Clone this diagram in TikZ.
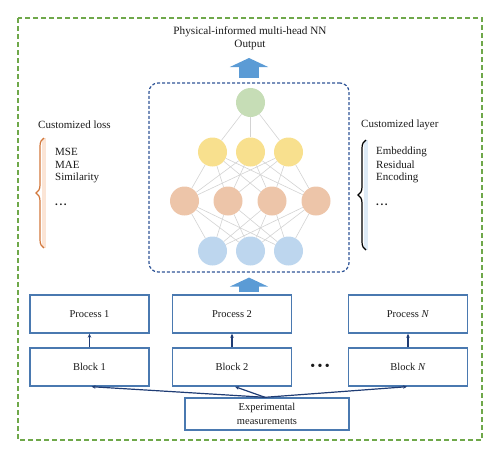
\documentclass[tikz,border=0pt]{standalone}
\usepackage{fontspec}
\setmainfont{Liberation Serif}
\usetikzlibrary{arrows.meta,decorations.pathreplacing}
\definecolor{frameGreen}{HTML}{6FA84A}
\definecolor{nnBlue}{HTML}{2F5597}
\definecolor{boxBlue}{HTML}{4A79B0}
\definecolor{arrNavy}{HTML}{1F3C74}
\definecolor{bigBlue}{HTML}{5B9BD5}
\definecolor{nGreen}{HTML}{C6DDB6}
\definecolor{nYellow}{HTML}{F8E08E}
\definecolor{nOrange}{HTML}{EDC5A9}
\definecolor{nBlue}{HTML}{BDD6EE}
\definecolor{edgeGray}{HTML}{D3D3D3}
\definecolor{braceOrange}{HTML}{D2783C}
\definecolor{stripOrange}{HTML}{FBE5D6}
\definecolor{stripBlue}{HTML}{DEEBF7}
\definecolor{txt}{HTML}{1A1A1A}
\begin{document}
\begin{tikzpicture}[x=1pt,y=-1pt,
  every node/.style={text=txt},
  neuron/.style={circle,minimum size=29pt,inner sep=0pt,draw=none},
  nnedge/.style={draw=edgeGray,line width=0.6pt},
  stagebox/.style={draw=boxBlue,line width=1.4pt,minimum width=119pt,minimum height=38pt,inner sep=0pt,font=\fontsize{10.5}{12}\selectfont},
  smallarr/.style={draw=arrNavy,line width=1.2pt,-{Stealth[length=4pt,width=3.5pt]}},
  bigarr/.style={draw=bigBlue,line width=19.5pt,-{Triangle[width=38pt,length=9pt]}},
  lbl/.style={font=\fontsize{11}{13}\selectfont,inner sep=0pt,anchor=west},
  bracestyle/.style={decorate,decoration={brace,amplitude=8pt},line width=1.2pt}
]
\useasboundingbox (0,0) rectangle (500,458);
% outer frame
\draw[frameGreen,line width=1.3pt,dash pattern=on 5pt off 3pt] (18,18) rectangle (482,440);
% title
\node[align=center,font=\fontsize{11.2}{13.5}\selectfont,inner sep=0pt] (title) at (250,38) {Physical-informed multi-head NN\\Output};
\coordinate (outtip) at (249,58);
% NN box
\node[draw=nnBlue,dash pattern=on 3pt off 2pt,line width=1.2pt,rounded corners=9pt,minimum width=200pt,minimum height=189pt,inner sep=0pt] (nnbox) at (249,177.5) {};
% neurons
\node[neuron,fill=nGreen] (g) at (250.5,102.5) {};
\node[neuron,fill=nYellow] (y1) at (212.5,152) {};
\node[neuron,fill=nYellow] (y2) at (250.5,152) {};
\node[neuron,fill=nYellow] (y3) at (288.5,152) {};
\node[neuron,fill=nOrange] (o1) at (184.5,201) {};
\node[neuron,fill=nOrange] (o2) at (228,201) {};
\node[neuron,fill=nOrange] (o3) at (272,201) {};
\node[neuron,fill=nOrange] (o4) at (316,201) {};
\node[neuron,fill=nBlue] (b1) at (212.5,251) {};
\node[neuron,fill=nBlue] (b2) at (250.5,251) {};
\node[neuron,fill=nBlue] (b3) at (288.5,251) {};
\foreach \y in {y1,y2,y3} \draw[nnedge] (g) -- (\y);
\foreach \y in {y1,y2,y3} \foreach \o in {o1,o2,o3,o4} \draw[nnedge] (\y) -- (\o);
\foreach \o in {o1,o2,o3,o4} \foreach \b in {b1,b2,b3} \draw[nnedge] (\o) -- (\b);
% big arrows
\draw[bigarr,shorten <=4.5pt] (nnbox.north) -- (outtip);
\coordinate (inbase) at (249,292);
\draw[bigarr,shorten >=5pt] (inbase) -- (inbase |- nnbox.south);
% left brace
\fill[stripOrange] (41.5,138) rectangle (45.5,248);
\draw[bracestyle,braceOrange] (44,248) -- (44,138);
\node[lbl] (lossh) at (38,125) {Customized loss};
\node[lbl] (mse) at (55,151.5) {MSE};
\node[lbl] (mae) at (55,164.5) {MAE};
\node[lbl] (sim) at (55,178) {Similarity};
\node[lbl] (ldots) at (55,205) {\textbf{.\hspace{1.6pt}.\hspace{1.6pt}.}};
% right brace
\fill[stripBlue] (363.5,140) rectangle (368,250);
\draw[bracestyle,black] (366,250) -- (366,140);
\node[lbl] (layh) at (361,125) {Customized layer};
\node[lbl] (emb) at (376,151.5) {Embedding};
\node[lbl] (res) at (376,164.5) {Residual};
\node[lbl] (enc) at (376,178) {Encoding};
\node[lbl] (rdots) at (376,205) {\textbf{.\hspace{1.6pt}.\hspace{1.6pt}.}};
% process / block boxes
\node[stagebox] (pr1) at (89.5,314) {Process 1};
\node[stagebox] (pr2) at (232,314) {Process 2};
\node[stagebox] (prN) at (408,314) {Process \textit{N}};
\node[stagebox] (bk1) at (89.5,367) {Block 1};
\node[stagebox] (bk2) at (232,367) {Block 2};
\node[stagebox] (bkN) at (408,367) {Block \textit{N}};
\node[font=\fontsize{14}{14}\selectfont,inner sep=0pt] (mdots) at (320,367) {\textbullet\,\textbullet\,\textbullet};
\node[stagebox,minimum width=164pt,minimum height=32pt,align=center,font=\fontsize{10.5}{14}\selectfont] (exp) at (267,414) {Experimental\\measurements};
\draw[smallarr] (bk1.north) -- (pr1.south);
\draw[smallarr] (bk2.north) -- (pr2.south);
\draw[smallarr] (bkN.north) -- (prN.south);
\draw[smallarr] ([xshift=-2pt]exp.north) -- ([xshift=2pt]bk1.south);
\draw[smallarr] ([xshift=-2pt]exp.north) -- ([xshift=3pt]bk2.south);
\draw[smallarr] ([xshift=-2pt]exp.north) -- ([xshift=-1pt]bkN.south);
\end{tikzpicture}
\end{document}
